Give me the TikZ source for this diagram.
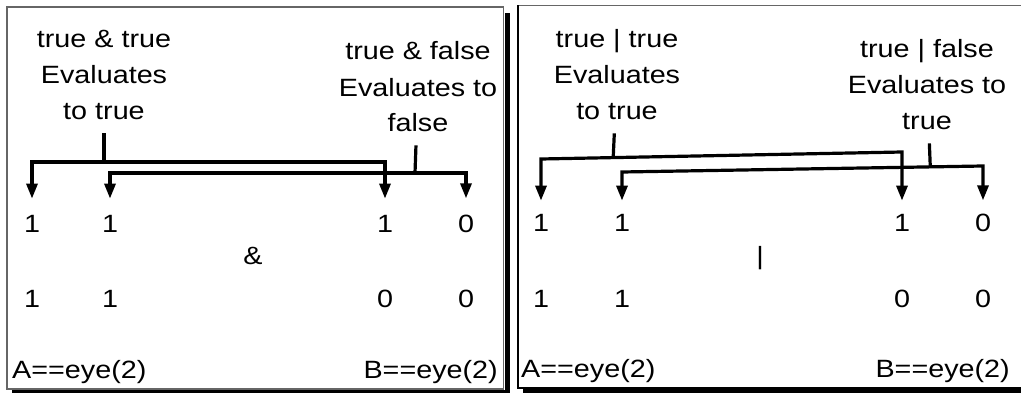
\documentclass[tikz,border=0pt]{standalone}
\usepackage{fontspec}
\usepackage{tikz}
\usetikzlibrary{arrows.meta,calc}
\newfontfamily\figfont[FakeStretch=1.15]{Liberation Sans}

\begin{document}
\begin{tikzpicture}[x=1pt,y=-1pt,
  txt/.style={font=\figfont\fontsize{25}{36}\selectfont,inner sep=0pt},
  lbl/.style={txt,align=center,anchor=base},
  dig/.style={txt,anchor=base},
  brk/.style={line width=3.2pt,{Triangle[width=11pt,length=15pt]}-{Triangle[width=11pt,length=15pt]},shorten <=17pt,shorten >=17pt},
  tick/.style={line width=3.2pt,shorten <=13pt}]
  \useasboundingbox (0,0) rectangle (1021,393);
  \fill[white] (0,0) rectangle (1021,393);
  % left panel: A & B
  \draw[gray!80!black,line width=1.2pt] (7,7) rectangle (503.5,389);
  \fill (505,13) rectangle (510,393); \fill (12,389.5) rectangle (510,393);
  \node[lbl] (lTT) at (104,120) {true \& true\\Evaluates\\to true};
  \node[lbl] (lTF) at (418,132) {true \& false\\Evaluates to\\false};
  \node[dig] (a11) at (32,233) {1}; \node[dig] (a12) at (110,233) {1};
  \node[dig] (b11) at (385,233) {1}; \node[dig] (b12) at (466,233) {0};
  \node[dig] (a21) at (32,307) {1}; \node[dig] (a22) at (110,307) {1};
  \node[dig] (b21) at (385,307) {0}; \node[dig] (b22) at (466,307) {0};
  \node[dig] (opA) at (253,265) {\&};
  \node[dig,anchor=base west] (nA) at (12,378) {A==eye(2)};
  \node[dig,anchor=base east] (nB) at (498,378) {B==eye(2)};
  \coordinate (k1a) at (32,162); \coordinate (k1b) at (385,162);
  \coordinate (k2a) at (110,173); \coordinate (k2b) at (466,173);
  \coordinate (jTT) at (104,162); \coordinate (jTF) at (415,173);
  \draw[brk] (a11) -- (k1a) -- (k1b) -- (b11);
  \draw[brk] (a12) -- (k2a) -- (k2b) -- (b12);
  \draw[tick] (lTT) -- (jTT); \draw[tick] (lTF) -- (jTF);
  % right panel: A | B
  \draw[gray!80!black,line width=1.2pt] (1021,5.5) -- (518,5.5);
  \draw[line width=1.2pt] (518,5.5) -- (518,388) -- (1021,388);
  \fill (523,388.5) rectangle (1021,393);
  \node[lbl] (rTT) at (617,120) {true | true\\Evaluates\\to true};
  \node[lbl] (rTF) at (927,130) {true | false\\Evaluates to\\true};
  \node[dig] (c11) at (541,232) {1}; \node[dig] (c12) at (622,232) {1};
  \node[dig] (d11) at (902,232) {1}; \node[dig] (d12) at (983,232) {0};
  \node[dig] (c21) at (541,307) {1}; \node[dig] (c22) at (622,307) {1};
  \node[dig] (d21) at (902,307) {0}; \node[dig] (d22) at (983,307) {0};
  \node[dig] (opO) at (760,265) {|};
  \node[dig,anchor=base west] (mA) at (521,377) {A==eye(2)};
  \node[dig,anchor=base east] (mB) at (1010,377) {B==eye(2)};
  \coordinate (m1a) at (541,159); \coordinate (m1b) at (902,152);
  \coordinate (m2a) at (622,172); \coordinate (m2b) at (983,166);
  \coordinate (jrT) at ($(m1a)!0.2!(m1b)$); \coordinate (jrF) at ($(m2a)!0.854!(m2b)$);
  \draw[brk,shorten <=14pt,shorten >=14pt] (c11) -- (m1a) -- (m1b) -- (d11);
  \draw[brk,shorten <=14pt,shorten >=14pt] (c12) -- (m2a) -- (m2b) -- (d12);
  \draw[tick] (rTT) -- (jrT); \draw[tick] (rTF) -- (jrF);
\end{tikzpicture}
\end{document}
